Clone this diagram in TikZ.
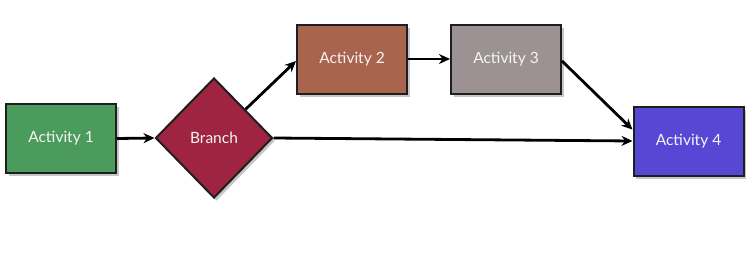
\documentclass[tikz,border=0pt]{standalone}
\usepackage{fontspec}
\setmainfont{Lato}
\usetikzlibrary{shapes.geometric,shadows,arrows.meta,calc}
\definecolor{cgreen}{RGB}{74,155,92}
\definecolor{ccrimson}{RGB}{158,36,66}
\definecolor{cbrown}{RGB}{168,100,76}
\definecolor{cgrey}{RGB}{156,146,147}
\definecolor{cblue}{RGB}{86,72,212}
\definecolor{cedge}{RGB}{30,30,30}
\tikzset{
  x=1pt,y=1pt,
  act/.style={draw=cedge, line width=2pt, minimum width=110pt, minimum height=69pt,
    inner sep=0pt, text=white!92!gray, font=\fontsize{15.5}{18}\selectfont,
    drop shadow={opacity=0.45, shadow xshift=2.5pt, shadow yshift=-3pt}},
  brshape/.style={diamond, draw=cedge, line width=2pt, minimum width=117pt, minimum height=120pt,
    inner sep=0pt, text=white!92!gray, font=\fontsize{15.5}{18}\selectfont,
    drop shadow={opacity=0.45, shadow xshift=2.5pt, shadow yshift=-3pt}},
  conn/.style={draw=black, line width=2.8pt, -{Stealth[length=11pt,width=10pt]}}
}
\begin{document}
\begin{tikzpicture}
\useasboundingbox (0,0) rectangle (756,258);
\node[act, fill=cgreen] (a1) at (61,119.5) {Activity 1};
\node[brshape, fill=ccrimson] (br) at (214,120) {Branch};
\node[act, fill=cbrown] (a2) at (352,199) {Activity 2};
\node[act, fill=cgrey] (a3) at (506,199) {Activity 3};
\node[act, fill=cblue] (a4) at (688.5,117) {Activity 4};
\draw[conn] (a1.east) -- (br.west);
\draw[conn] ($(br.north)!0.53!(br.east)$) -- ($(a2.west)+(0,-2)$);
\draw[conn] (a2.east) -- (a3.east -| a3.west);
\draw[conn] ($(a3.east)+(0,-2)$) -- ($(a4.north west)!0.34!(a4.south west)$);
\draw[conn] (br.east) -- (a4.west);
\end{tikzpicture}
\end{document}
